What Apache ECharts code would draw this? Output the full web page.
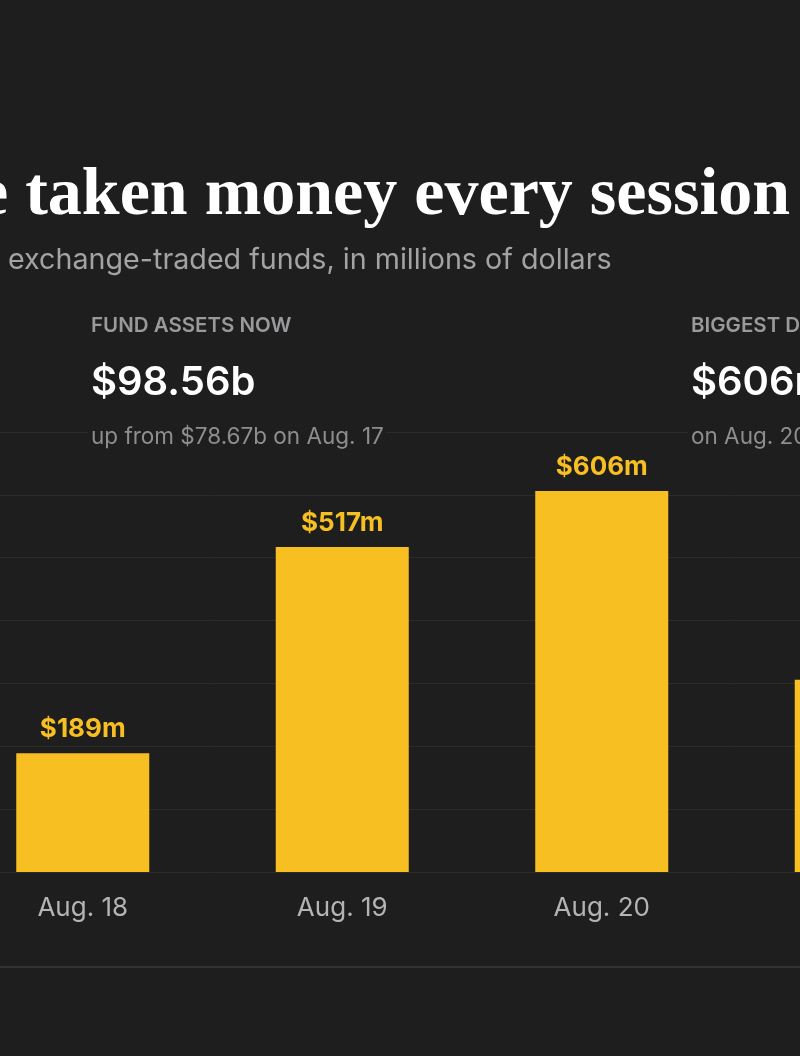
<!DOCTYPE html>
<html lang="en">
<head>
    <meta charset="UTF-8">
    <title>ETF inflows</title>
    <script src="https://cdn.jsdelivr.net/npm/echarts@6.0.0/dist/echarts.min.js"></script>
    <style>
        html, body {
            margin: 0;
            padding: 0;
            background: #1e1e1e;
            overflow: hidden;
            width: 800px;
            height: 1056px;
            position: relative;
        }
        /* the picture is a crop of a wider graphic, so the chart runs past the left edge */
        #box {
            position: absolute;
            left: -47px;
            top: 0;
            width: 1100px;
            height: 1056px;
        }
    </style>
</head>
<body>
<div id="box"></div>
<script>
    // daily net inflows, millions of dollars
    var categories = ['Aug. 18', 'Aug. 19', 'Aug. 20', 'Aug. 21'];
    var inflows = [189, 517, 606, 306];
    var yMin = 0, yMax = 700, yStep = 100;

    var bg = '#1e1e1e';
    var yellow = '#f8bf22';
    var sans = 'Inter, "Noto Sans", sans-serif';
    var shift = 47;

    // header texts
    var texts = [
        {x: -22, y: 196, text: 'e taken money every session', font: 'bold 68px "Liberation Serif", serif', fill: '#ffffff'},
        {x: 8, y: 260, text: 'exchange-traded funds, in millions of dollars', font: '28.7px ' + sans, fill: '#a3a3a3'},
        {x: 91, y: 326, text: 'FUND ASSETS NOW', font: '600 20.5px ' + sans, fill: '#9a9a9d'},
        {x: 91, y: 383, text: '$98.56b', font: '600 40px ' + sans, fill: '#ffffff'},
        {x: 91, y: 437, text: 'up from $78.67b on Aug. 17', font: '22.5px ' + sans, fill: '#8e8e8e', pad: true},
        {x: 691, y: 326, text: 'BIGGEST DAY', font: '600 20.5px ' + sans, fill: '#9a9a9d'},
        {x: 691, y: 383, text: '$606m', font: '600 40px ' + sans, fill: '#ffffff'},
        {x: 691, y: 437, text: 'on Aug. 20', font: '22.5px ' + sans, fill: '#8e8e8e', pad: true}
    ];

    var graphics = texts.map(function (t) {
        var style = {
            text: t.text,
            font: t.font,
            fill: t.fill,
            align: 'left',
            verticalAlign: 'middle'
        };
        if (t.pad) {
            style.backgroundColor = bg;
            style.padding = [0, 3];
        }
        return {type: 'text', x: t.x + shift - (t.pad ? 3 : 0), y: t.y, z: 10, style: style};
    });
    // rule under the chart
    graphics.push({
        type: 'rect',
        shape: {x: 0, y: 966, width: 1100, height: 2},
        style: {fill: '#333333'}
    });

    var myChart = echarts.init(document.getElementById('box'));
    var option = {
        backgroundColor: bg,
        animation: false,
        graphic: graphics,
        grid: {
            left: 0,
            width: 1038,
            top: 432,
            bottom: 184
        },
        xAxis: {
            type: 'category',
            data: categories,
            axisLine: {show: false},
            axisTick: {show: false},
            axisLabel: {
                color: '#b4b4b4',
                fontFamily: sans,
                fontSize: 26,
                margin: 23
            }
        },
        yAxis: {
            type: 'value',
            min: yMin,
            max: yMax,
            interval: yStep,
            axisLabel: {show: false},
            axisLine: {show: false},
            axisTick: {show: false},
            splitLine: {
                lineStyle: {color: '#2b2b2b', width: 1}
            }
        },
        series: [
            {
                type: 'bar',
                data: inflows,
                barWidth: 133,
                itemStyle: {color: yellow},
                label: {
                    show: true,
                    position: 'top',
                    distance: 11,
                    color: yellow,
                    fontFamily: sans,
                    fontWeight: 'bold',
                    fontSize: 26,
                    formatter: function (p) {
                        return '$' + p.value + 'm';
                    }
                }
            }
        ]
    };
    myChart.setOption(option);
    window.addEventListener('resize', myChart.resize);
</script>
</body>
</html>
